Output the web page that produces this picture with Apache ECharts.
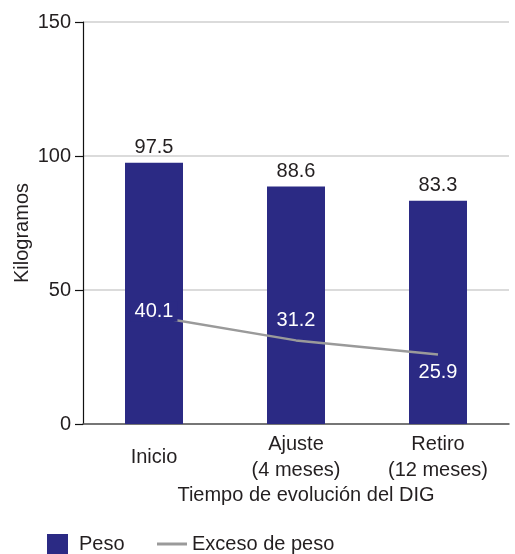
<!DOCTYPE html>
<html>
<head>
<meta charset="utf-8">
<script src="https://cdn.jsdelivr.net/npm/echarts@6/dist/echarts.min.js"></script>
<style>
  html, body { margin: 0; padding: 0; background: #fff; }
  #chart { width: 515px; height: 554px; }
</style>
</head>
<body>
<div id="chart"></div>
<script>
// Weight evolution over the DIG programme
const categories = ['Inicio', 'Ajuste\n(4 meses)', 'Retiro\n(12 meses)'];
const pesoValues = [97.5, 88.6, 83.3];
const excesoValues = [40.1, 31.2, 25.9];
const yTicks = [0, 50, 100, 150];

const textColor = '#231f20';
const barColor = '#2b2a84';
const fontFamily = '"Liberation Sans", Arial, sans-serif';
const fs = 20;

// label placement for the excess-weight line, one per point;
// the first label sits on the line start, boxed in the bar colour
const excesoLabelPlace = [
  { position: 'top', distance: -5, backgroundColor: barColor, padding: [0, 4, 0, 4] },
  { position: 'top', distance: 10 },
  { position: 'bottom', distance: 8 }
];

const chart = echarts.init(document.getElementById('chart'), null, { renderer: 'canvas' });

chart.setOption({
  animation: false,
  textStyle: { fontFamily: fontFamily },
  grid: { left: 83, right: 6, top: 22, bottom: 130, containLabel: false, outerBoundsMode: 'none' },
  legend: [
    {
      data: ['Peso'],
      left: 42, top: 529,
      itemWidth: 21, itemHeight: 20,
      icon: 'rect',
      itemStyle: { color: barColor },
      textStyle: { fontSize: fs, color: textColor, fontFamily: fontFamily, padding: [0, 0, 0, 6] },
      selectedMode: false
    },
    {
      data: ['Exceso de peso'],
      left: 152, top: 529,
      itemWidth: 30, itemHeight: 3,
      icon: 'rect',
      itemStyle: { color: '#9a9a9a' },
      textStyle: { fontSize: fs, color: textColor, fontFamily: fontFamily, padding: [0, 0, 0, 0] },
      selectedMode: false
    }
  ],
  xAxis: {
    type: 'category',
    data: categories,
    name: 'Tiempo de evolución del DIG',
    nameLocation: 'middle',
    nameGap: 61,
    nameMoveOverlap: false,
    nameTextStyle: { fontSize: fs, color: textColor, padding: [0, 0, 0, 20] },
    axisLine: { show: true, lineStyle: { color: '#555', width: 1.5 } },
    axisTick: { show: false },
    axisLabel: {
      interval: 0,
      fontSize: fs, color: textColor, margin: 33,
      verticalAlign: 'middle', lineHeight: 26
    },
    splitLine: { show: false }
  },
  yAxis: {
    type: 'value',
    min: yTicks[0],
    max: yTicks[yTicks.length - 1],
    interval: yTicks[1] - yTicks[0],
    name: 'Kilogramos',
    nameLocation: 'middle',
    nameGap: 51,
    nameMoveOverlap: false,
    nameTextStyle: { fontSize: fs, color: textColor, padding: [0, 0, 0, -20] },
    axisLine: { show: true, lineStyle: { color: '#111', width: 1.2 } },
    axisTick: { show: true, length: 8, inside: false, lineStyle: { color: '#111', width: 1.2 } },
    axisLabel: { fontSize: fs, color: textColor, margin: 12 },
    splitLine: { show: true, lineStyle: { color: '#cfcfcf', width: 1.5 } }
  },
  series: [
    {
      name: 'Peso',
      type: 'bar',
      data: pesoValues,
      barWidth: 58,
      itemStyle: { color: barColor },
      label: {
        show: true, position: 'top', distance: 5,
        fontSize: fs, color: textColor, fontFamily: fontFamily
      },
      z: 2
    },
    {
      name: 'Exceso de peso',
      type: 'line',
      data: excesoValues.map((v, i) => ({
        value: v,
        label: Object.assign({ show: true }, excesoLabelPlace[i])
      })),
      symbol: 'circle',
      symbolSize: 0.1,
      showSymbol: true,
      lineStyle: { color: '#9a9a9a', width: 2.5 },
      itemStyle: { color: '#9a9a9a' },
      label: {
        show: true, fontSize: fs, color: '#ffffff', fontFamily: fontFamily
      },
      labelLayout: { hideOverlap: false },
      z: 3
    }
  ]
});
</script>
</body>
</html>
